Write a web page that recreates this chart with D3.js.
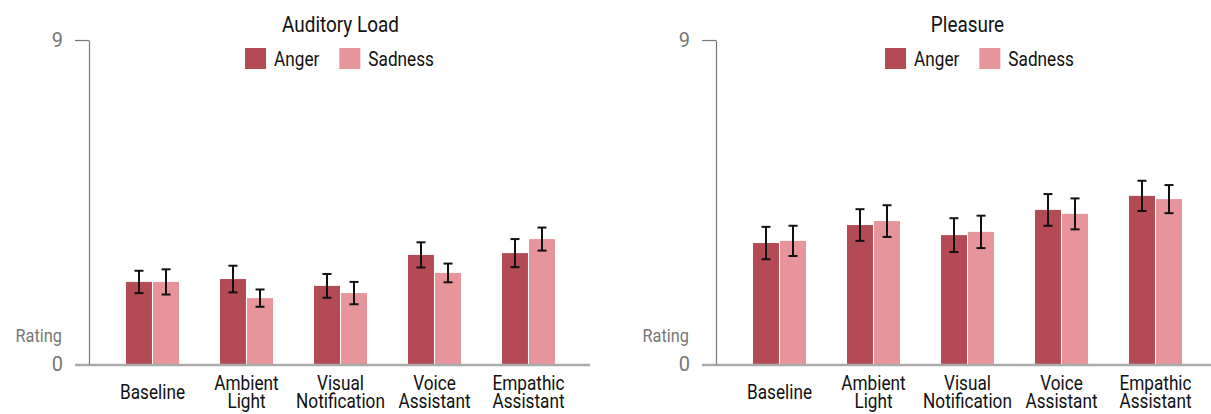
<!DOCTYPE html>
<html>
<head>
<meta charset="utf-8">
<script src="https://cdn.jsdelivr.net/npm/d3@7"></script>
<style>
  html, body { margin: 0; padding: 0; background: #fff; }
  svg { display: block; font-family: Roboto, "Noto Sans", sans-serif; }
</style>
</head>
<body>
<script>
// Condition labels along the x axis
const categories = ["Baseline", "Ambient Light", "Visual Notification", "Voice Assistant", "Empathic Assistant"];
const seriesNames = ["Anger", "Sadness"];
const panelTitles = ["Auditory Load", "Pleasure"];
const yTicks = [0, 9];

// Mean ratings and their error half-widths, one entry per condition
const auditoryAnger      = [2.28, 2.36, 2.17, 3.03, 3.08];
const auditorySadness    = [2.28, 1.83, 1.97, 2.53, 3.47];
const auditoryAngerErr   = [0.31, 0.37, 0.33, 0.35, 0.39];
const auditorySadnessErr = [0.35, 0.24, 0.31, 0.26, 0.32];

const pleasureAnger      = [3.36, 3.86, 3.58, 4.28, 4.67];
const pleasureSadness    = [3.42, 3.97, 3.67, 4.17, 4.58];
const pleasureAngerErr   = [0.45, 0.44, 0.47, 0.44, 0.42];
const pleasureSadnessErr = [0.42, 0.44, 0.45, 0.43, 0.39];

const panels = [
  { title: panelTitles[0], values: [auditoryAnger, auditorySadness], errors: [auditoryAngerErr, auditorySadnessErr] },
  { title: panelTitles[1], values: [pleasureAnger, pleasureSadness], errors: [pleasureAngerErr, pleasureSadnessErr] }
];

const W = 1211, H = 414;
const SX = 0.86;              // horizontal squeeze for the narrow label face
const panelStep = 627;        // horizontal distance between the two panels
const legendShift = [-1, 12]; // legend offset from each panel's title centre

const svg = d3.select("body").append("svg")
  .attr("width", W).attr("height", H)
  .attr("viewBox", `0 0 ${W} ${H}`);

const y = d3.scaleLinear().domain([0, 9]).range([364, 40]);
const color = d3.scaleOrdinal().domain(seriesNames).range(["#b34a54", "#e8949b"]);

panels.forEach((p, i) => {
  const g = svg.append("g").attr("transform", `translate(${i * panelStep},0)`);

  const x = d3.scaleBand().domain(categories)
    .range([105.5, 575.5]).paddingInner(0.436).paddingOuter(0.218);
  const xs = d3.scaleBand().domain(seriesNames)
    .range([0, x.bandwidth()]).paddingInner(0.04);

  // Bars
  const rows = [];
  categories.forEach((c, ci) => {
    seriesNames.forEach((s, si) => {
      rows.push({ c, s, v: p.values[si][ci], e: p.errors[si][ci] });
    });
  });

  g.append("g").selectAll("rect").data(rows).join("rect")
    .attr("x", d => x(d.c) + xs(d.s))
    .attr("width", xs.bandwidth())
    .attr("y", d => y(d.v))
    .attr("height", d => y(0) - y(d.v))
    .attr("fill", d => color(d.s));

  // Baseline rule
  g.append("line")
    .attr("x1", 75).attr("x2", 590)
    .attr("y1", y(0) + 1).attr("y2", y(0) + 1)
    .attr("stroke", "#aaaaaa").attr("stroke-width", 2.5);

  // Error bars
  const eb = g.append("g").attr("stroke", "#111").attr("stroke-width", 2).attr("fill", "none");
  rows.forEach(d => {
    const cx = x(d.c) + xs(d.s) + xs.bandwidth() / 2;
    const y1 = y(d.v + d.e), y2 = y(d.v - d.e);
    eb.append("line").attr("x1", cx).attr("x2", cx).attr("y1", y1).attr("y2", y2);
    eb.append("line").attr("x1", cx - 4.5).attr("x2", cx + 4.5).attr("y1", y1).attr("y2", y1);
    eb.append("line").attr("x1", cx - 4.5).attr("x2", cx + 4.5).attr("y1", y2).attr("y2", y2);
  });

  // Y axis
  const ya = d3.axisLeft(y).tickValues(yTicks).tickSize(14).tickSizeOuter(0)
    .tickPadding(12).tickFormat(d3.format("d"));
  const yg = g.append("g").attr("transform", "translate(89,0)").call(ya);
  yg.attr("font-family", null).attr("font-size", 20);
  yg.select(".domain").attr("stroke", "#777").attr("stroke-width", 1.2);
  yg.selectAll(".tick line").attr("stroke", "#777").attr("stroke-width", 1.2);
  yg.selectAll(".tick").filter(d => d === 0).select("line").remove();
  yg.selectAll(".tick text").attr("fill", "#777");

  g.append("g").attr("transform", `translate(62,342) scale(${SX},1)`)
    .append("text").attr("text-anchor", "end")
    .attr("font-size", 19).attr("fill", "#777").text("Rating");

  // X axis labels, wrapped onto two lines
  const xg = g.append("g").attr("transform", `translate(0,${y(0)})`)
    .call(d3.axisBottom(x).tickSize(0).tickPadding(0));
  xg.attr("font-family", null).attr("font-size", 20);
  xg.select(".domain").remove();
  xg.selectAll(".tick text").each(function(d) {
    const t = d3.select(this);
    const lines = d.split(" ");
    t.text(null).attr("y", null).attr("dy", null)
      .attr("fill", "#111").attr("transform", `scale(${SX},1)`);
    lines.forEach((ln, k) => {
      t.append("tspan").attr("x", 0)
        .attr("y", lines.length === 1 ? 35 : 26 + k * 18).text(ln);
    });
  });

  // Title
  const cx = (x.range()[0] + x.range()[1]) / 2;
  g.append("g").attr("transform", `translate(${cx},32) scale(${SX},1)`)
    .append("text").attr("text-anchor", "middle")
    .attr("font-size", 22).attr("fill", "#111").text(p.title);

  // Legend
  const lg = g.append("g");
  let pos = 0;
  seriesNames.forEach(s => {
    const it = lg.append("g");
    it.append("rect").attr("x", 0).attr("y", 48).attr("width", 21).attr("height", 21).attr("fill", color(s));
    const tx = it.append("g").attr("transform", `translate(29,66) scale(${SX},1)`)
      .append("text").attr("font-size", 20).attr("fill", "#111").text(s);
    const w = 29 + tx.node().getComputedTextLength() * SX;
    it.attr("transform", `translate(${pos},0)`);
    pos += w + 20;
  });
  const total = pos - 20;
  lg.attr("transform", `translate(${cx + legendShift[i] - total / 2},0)`);
});
</script>
</body>
</html>
